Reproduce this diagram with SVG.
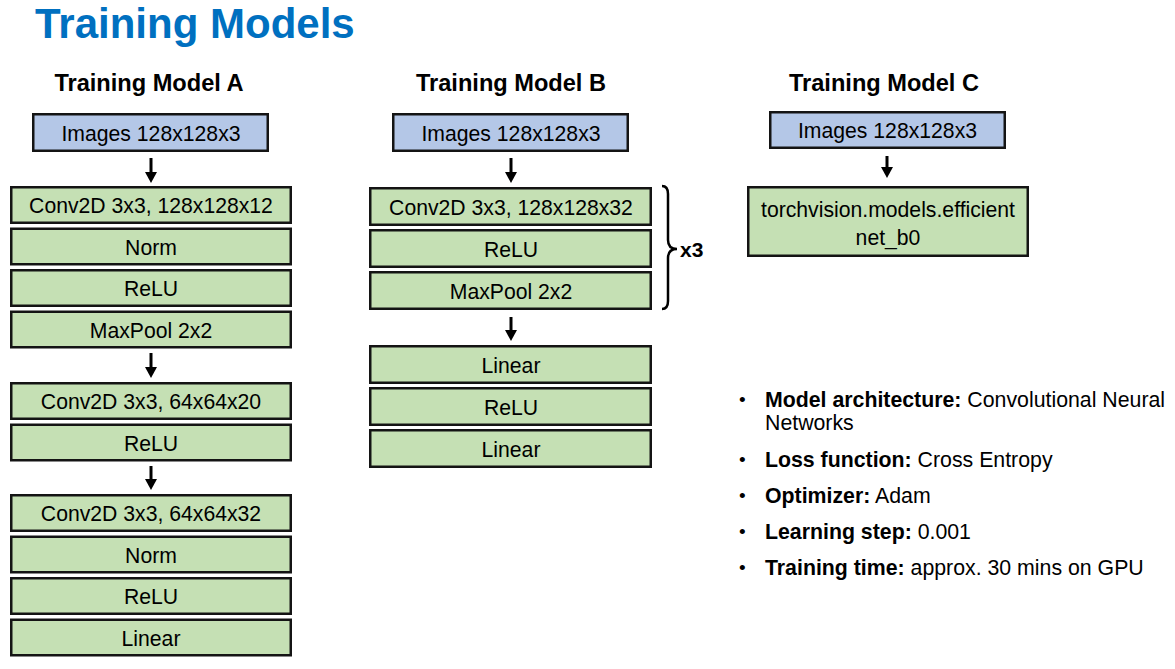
<svg xmlns="http://www.w3.org/2000/svg" width="1175" height="669" viewBox="0 0 1175 669">
<defs>
<style>
.t{font-family:"Liberation Sans",Arial,sans-serif;fill:#000}
.lbl{font-size:21.2px;text-anchor:middle}
.head{font-size:23.6px;font-weight:bold;text-anchor:middle}
.b{font-weight:bold}
.inp{fill:#B4C7E7;stroke:#141414;stroke-width:2.5}
.lay{fill:#C5E0B4;stroke:#141414;stroke-width:2.5}
.con{stroke:#000;stroke-width:3;fill:none}
.bul{font-size:21.3px}
.dot{font-size:19px}
</style>
<marker id="ah" viewBox="0 -6 11 12" refX="0" refY="0" markerWidth="11" markerHeight="12" markerUnits="userSpaceOnUse" orient="auto">
<path d="M0,-6 L11,0 L0,6 z" fill="#000"/>
</marker>
</defs>
<rect width="1175" height="669" fill="#fff"/>
<text class="t b" x="35" y="38" font-size="42" style="fill:#0070C0">Training Models</text>
<text class="t head" x="149" y="91">Training Model A</text>
<text class="t head" x="511" y="91">Training Model B</text>
<text class="t head" x="884" y="91">Training Model C</text>

<g id="A-input"><rect class="inp" x="33.25" y="114.25" width="234.5" height="36.5"/><text class="t lbl" x="151" y="140.5">Images 128x128x3</text></g>
<g id="A-conv1"><rect class="lay" x="11.25" y="187.25" width="279.5" height="35.5"/><text class="t lbl" x="151" y="213">Conv2D 3x3, 128x128x12</text></g>
<g id="A-norm1"><rect class="lay" x="11.25" y="228.75" width="279.5" height="35.5"/><text class="t lbl" x="151" y="254.5">Norm</text></g>
<g id="A-relu1"><rect class="lay" x="11.25" y="270.25" width="279.5" height="35.5"/><text class="t lbl" x="151" y="296">ReLU</text></g>
<g id="A-pool1"><rect class="lay" x="11.25" y="311.75" width="279.5" height="35.5"/><text class="t lbl" x="151" y="337.5">MaxPool 2x2</text></g>
<g id="A-conv2"><rect class="lay" x="11.25" y="383.25" width="279.5" height="35.5"/><text class="t lbl" x="151" y="409">Conv2D 3x3, 64x64x20</text></g>
<g id="A-relu2"><rect class="lay" x="11.25" y="424.75" width="279.5" height="35.5"/><text class="t lbl" x="151" y="450.5">ReLU</text></g>
<g id="A-conv3"><rect class="lay" x="11.25" y="495.25" width="279.5" height="35.5"/><text class="t lbl" x="151" y="521">Conv2D 3x3, 64x64x32</text></g>
<g id="A-norm3"><rect class="lay" x="11.25" y="536.75" width="279.5" height="35.5"/><text class="t lbl" x="151" y="562.5">Norm</text></g>
<g id="A-relu3"><rect class="lay" x="11.25" y="578.25" width="279.5" height="35.5"/><text class="t lbl" x="151" y="604">ReLU</text></g>
<g id="A-linear"><rect class="lay" x="11.25" y="619.75" width="279.5" height="35.5"/><text class="t lbl" x="151" y="645.5">Linear</text></g>

<g id="B-input"><rect class="inp" x="393.25" y="114.25" width="234.5" height="36.5"/><text class="t lbl" x="511" y="140.5">Images 128x128x3</text></g>
<g id="B-conv"><rect class="lay" x="370.25" y="188.25" width="280.5" height="36.5"/><text class="t lbl" x="511" y="214.5">Conv2D 3x3, 128x128x32</text></g>
<g id="B-relu1"><rect class="lay" x="370.25" y="230.25" width="280.5" height="36.5"/><text class="t lbl" x="511" y="256.5">ReLU</text></g>
<g id="B-pool"><rect class="lay" x="370.25" y="272.25" width="280.5" height="36.5"/><text class="t lbl" x="511" y="298.5">MaxPool 2x2</text></g>
<g id="B-repeat"><path class="con" style="stroke-width:2.5" d="M662,186 Q668,186 668,194 L668,240 Q668,249 677,249 Q668,249 668,258 L668,301 Q668,309 662,309"/><text class="t b" x="680" y="257" font-size="21">x3</text></g>
<g id="B-linear1"><rect class="lay" x="370.25" y="346.25" width="280.5" height="36.5"/><text class="t lbl" x="511" y="372.5">Linear</text></g>
<g id="B-relu2"><rect class="lay" x="370.25" y="388.25" width="280.5" height="36.5"/><text class="t lbl" x="511" y="414.5">ReLU</text></g>
<g id="B-linear2"><rect class="lay" x="370.25" y="430.25" width="280.5" height="36.5"/><text class="t lbl" x="511" y="456.5">Linear</text></g>

<g id="C-input"><rect class="inp" x="770.25" y="112.25" width="234.5" height="35.5"/><text class="t lbl" x="887.5" y="138">Images 128x128x3</text></g>
<g id="C-effnet"><rect class="lay" x="748.25" y="187.25" width="279.5" height="68.5"/><text class="t lbl" x="888" y="217">torchvision.models.efficient</text><text class="t lbl" x="888" y="245">net_b0</text></g>

<g id="connectors">
<line class="con" x1="151" y1="158" x2="151" y2="172" marker-end="url(#ah)"/>
<line class="con" x1="151" y1="353" x2="151" y2="367" marker-end="url(#ah)"/>
<line class="con" x1="151" y1="466" x2="151" y2="479" marker-end="url(#ah)"/>
<line class="con" x1="511" y1="158" x2="511" y2="172" marker-end="url(#ah)"/>
<line class="con" x1="511" y1="317" x2="511" y2="330" marker-end="url(#ah)"/>
<line class="con" x1="887" y1="156" x2="887" y2="167" marker-end="url(#ah)"/>
</g>

<g id="notes" class="t bul">
<text class="dot" x="739" y="406">•</text>
<text x="765" y="407"><tspan class="b">Model architecture:</tspan> Convolutional Neural</text>
<text x="765" y="430">Networks</text>
<text class="dot" x="739" y="466">•</text>
<text x="765" y="467"><tspan class="b">Loss function:</tspan> Cross Entropy</text>
<text class="dot" x="739" y="502">•</text>
<text x="765" y="503"><tspan class="b">Optimizer:</tspan> Adam</text>
<text class="dot" x="739" y="538">•</text>
<text x="765" y="539"><tspan class="b">Learning step:</tspan> 0.001</text>
<text class="dot" x="739" y="574">•</text>
<text x="765" y="575"><tspan class="b">Training time:</tspan> approx. 30 mins on GPU</text>
</g>
</svg>
